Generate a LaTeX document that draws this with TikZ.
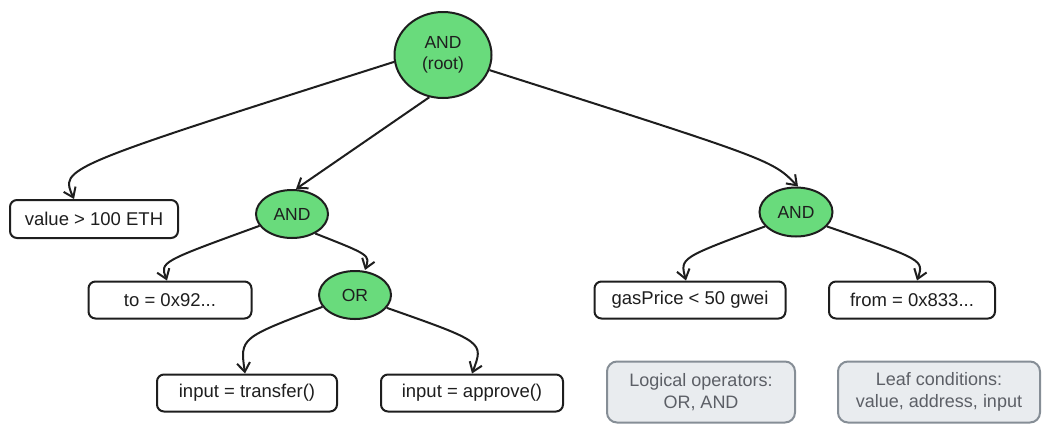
\documentclass[tikz,border=0pt]{standalone}
\usepackage{fontspec}
\setmainfont{Liberation Sans}
\usetikzlibrary{shapes.geometric,arrows.meta}
\definecolor{opgreen}{HTML}{69DB7C}
\definecolor{ink}{HTML}{1E1E1E}
\definecolor{notefill}{HTML}{E9ECEF}
\definecolor{notedraw}{HTML}{868E96}
\definecolor{notetext}{HTML}{5C5F66}
\tikzset{
  opnode/.style={ellipse, draw=ink, fill=opgreen, line width=2pt, inner sep=0pt, font=\fontsize{17.5}{21}\selectfont, text=ink, align=center},
  leafbox/.style={rectangle, rounded corners=7pt, draw=ink, fill=white, line width=2pt, inner sep=0pt, font=\fontsize{18.5}{21}\selectfont, text=ink},
  notebox/.style={rectangle, rounded corners=10pt, draw=notedraw, fill=notefill, line width=2pt, inner sep=0pt, font=\fontsize{18}{22}\selectfont, text=notetext, align=center},
  conn/.style={draw=ink, line width=2pt, -{Straight Barb[length=9pt,width=13pt,line width=2pt]}},
}
\begin{document}
\begin{tikzpicture}[x=1pt,y=-1pt]
\useasboundingbox (0,0) rectangle (1044,424);
% operator nodes
\node[opnode, minimum width=97pt, minimum height=86pt] (root) at (443,55) {AND\\(root)};
\node[opnode, minimum width=72pt, minimum height=48pt] (andL) at (292,214) {AND};
\node[opnode, minimum width=72pt, minimum height=48pt] (orN) at (355,295) {OR};
\node[opnode, minimum width=73pt, minimum height=49pt] (andR) at (796,212) {AND};
% leaves
\node[leafbox, minimum width=168pt, minimum height=38pt] (val) at (94,219) {value > 100 ETH};
\node[leafbox, minimum width=163pt, minimum height=37pt] (to) at (170,300) {to = 0x92...};
\node[leafbox, minimum width=180pt, minimum height=37pt] (tr) at (247,393) {input = transfer()};
\node[leafbox, minimum width=182pt, minimum height=37pt] (ap) at (472,393) {input = approve()};
\node[leafbox, minimum width=191pt, minimum height=37pt] (gas) at (690,300) {gasPrice < 50 gwei};
\node[leafbox, minimum width=166pt, minimum height=37pt] (from) at (912,300) {from = 0x833...};
% notes
\node[notebox, minimum width=188pt, minimum height=61pt] (ops) at (701,392) {Logical operators:\\OR, AND};
\node[notebox, minimum width=202pt, minimum height=61pt] (leafs) at (939,392) {Leaf conditions:\\value, address, input};
% connectors
\draw[conn] (root.188) .. controls (60,168) .. ([xshift=-20pt]val.north);
\draw[conn] (root.252) -- ([xshift=4pt]andL.north);
\draw[conn] (root.-18) .. controls (772,160) .. ([xshift=2pt]andR.north);
\draw[conn] (andL.200) .. controls (160,262) .. ([xshift=-3pt]to.north);
\draw[conn] (andL.-40) .. controls (370,255) .. ([xshift=10pt]orN.north);
\draw[conn] (orN.200) .. controls (240,338) .. ([xshift=-2pt]tr.north);
\draw[conn] (orN.-22) .. controls (484,342) .. ([xshift=0pt]ap.north);
\draw[conn] (andR.205) .. controls (680,258) .. ([xshift=-4pt]gas.north);
\draw[conn] (andR.-25) .. controls (924,260) .. ([xshift=5pt]from.north);
\end{tikzpicture}
\end{document}
